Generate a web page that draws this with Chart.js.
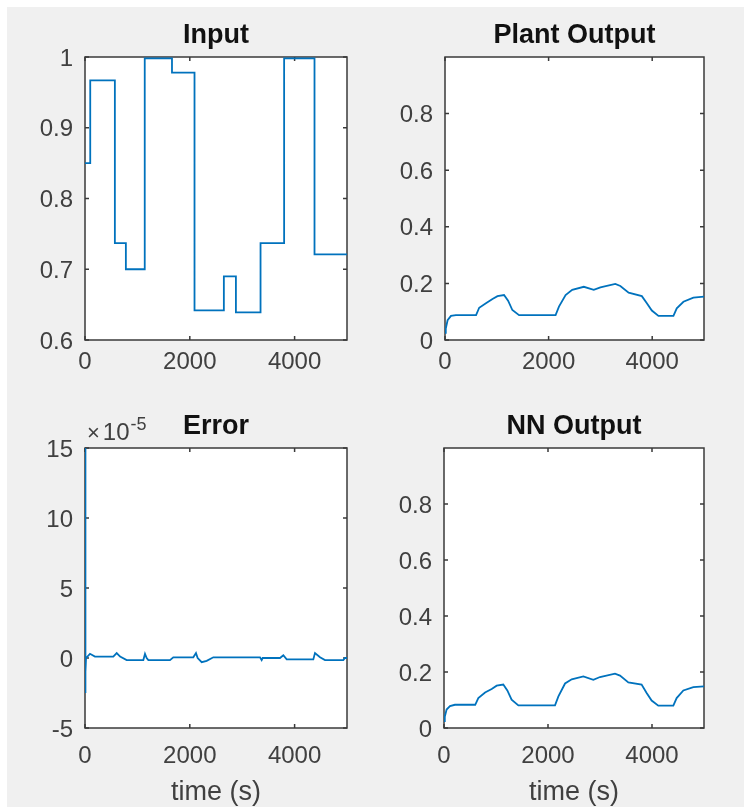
<!DOCTYPE html>
<html>
<head>
<meta charset="utf-8">
<script src="https://cdn.jsdelivr.net/npm/chart.js@4.4.1/dist/chart.umd.min.js"></script>
<style>
  body { margin: 0; background: #fff; width: 744px; height: 807px; position: relative; overflow: hidden; }
  #figure { position: absolute; left: 7px; top: 7px; width: 737px; height: 800px; background: #f0f0f0; }
  canvas { position: absolute; }
</style>
</head>
<body>
<div id="figure"></div>
<canvas id="inputChart" width="372" height="400" style="left:0;top:0"></canvas>
<canvas id="plantChart" width="372" height="400" style="left:372px;top:0"></canvas>
<canvas id="errorChart" width="372" height="407" style="left:0;top:400px"></canvas>
<canvas id="nnChart" width="372" height="407" style="left:372px;top:400px"></canvas>
<script>
/* Four MATLAB-style subplots: input, plant output, error, NN output */

const timeTicks = [0, 2000, 4000];

const inputTime = [0, 100, 570, 780, 1140, 1660, 2090, 2650, 2880, 3350, 3800, 4380, 5000];
const inputValue = [0.85, 0.967, 0.737, 0.70, 0.998, 0.978, 0.642, 0.69, 0.639, 0.737, 0.998, 0.721, 0.721];
const inputTicks = [0.6, 0.7, 0.8, 0.9, 1];

const outputTime = [0, 15, 50, 115, 210, 600, 660, 790, 917, 1013, 1140, 1218, 1300, 1430, 2135, 2200, 2328,
  2456, 2680, 2872, 3000, 3288, 3385, 3545, 3800, 3897, 3993, 4121, 4410, 4474, 4603, 4795, 5000];
const plantValue = [0.025, 0.04, 0.07, 0.085, 0.088, 0.088, 0.114, 0.13, 0.145, 0.155, 0.159, 0.139, 0.106, 0.088,
  0.088, 0.118, 0.159, 0.177, 0.188, 0.177, 0.186, 0.198, 0.191, 0.167, 0.155, 0.13, 0.104, 0.085, 0.085, 0.112,
  0.135, 0.15, 0.153];
const nnValue = [0.025, 0.04, 0.066, 0.078, 0.083, 0.083, 0.107, 0.127, 0.139, 0.151, 0.155, 0.134, 0.101, 0.081,
  0.081, 0.113, 0.159, 0.174, 0.184, 0.172, 0.182, 0.194, 0.187, 0.163, 0.155, 0.125, 0.098, 0.08, 0.08, 0.107,
  0.134, 0.146, 0.149];
const outputTicks = [0, 0.2, 0.4, 0.6, 0.8];

// error values are in units of 1e-5
const errorTime = [0, 5, 12, 20, 95, 190, 540, 605, 670, 795, 1113, 1145, 1177, 1209, 1622, 1685, 2067, 2118, 2150,
  2227, 2322, 2449, 3340, 3371, 3390, 3721, 3785, 3849, 4357, 4389, 4485, 4580, 4930, 4962, 5000];
const errorValue = [16, -2.5, -1, 0, 0.3, 0.1, 0.1, 0.35, 0.1, -0.15, -0.15, 0.3, 0, -0.15, -0.15, 0.05, 0.05, 0.35,
  0, -0.3, -0.2, 0.05, 0.05, -0.15, 0, 0, 0.2, -0.1, -0.1, 0.35, 0.05, -0.15, -0.15, 0, 0];
const errorTicks = [-5, 0, 5, 10, 15];

const LINE_COLOR = "#0072bd";
const AXIS_COLOR = "#3a3a3a";
const TEXT_COLOR = "#404040";
const FONT = "'Liberation Sans', Arial, sans-serif";

const matlabAxes = {
  id: "matlabAxes",
  beforeDraw(chart) {
    const { ctx, chartArea: a } = chart;
    ctx.save();
    ctx.fillStyle = "#fff";
    ctx.fillRect(a.left, a.top, a.width, a.height);
    ctx.restore();
  },
  beforeDatasetsDraw(chart) {
    const { ctx, chartArea: a, scales } = chart;
    const len = 4;
    ctx.save();
    ctx.strokeStyle = AXIS_COLOR;
    ctx.lineWidth = 1.5;
    ctx.beginPath();
    scales.x.ticks.forEach((t) => {
      const px = scales.x.getPixelForValue(t.value);
      ctx.moveTo(px, a.bottom); ctx.lineTo(px, a.bottom - len);
      ctx.moveTo(px, a.top); ctx.lineTo(px, a.top + len);
    });
    scales.y.ticks.forEach((t) => {
      const py = scales.y.getPixelForValue(t.value);
      ctx.moveTo(a.left, py); ctx.lineTo(a.left + len, py);
      ctx.moveTo(a.right, py); ctx.lineTo(a.right - len, py);
    });
    ctx.stroke();
    ctx.strokeRect(a.left, a.top, a.width, a.height);
    ctx.restore();
  },
  afterDraw(chart, args, opts) {
    const { ctx, chartArea: a } = chart;
    const cx = (a.left + a.right) / 2;
    ctx.save();
    ctx.textAlign = "center";
    ctx.textBaseline = "alphabetic";
    ctx.fillStyle = "#111";
    ctx.font = "bold 27px " + FONT;
    ctx.fillText(opts.title, cx, a.top - 14);
    if (opts.xLabel) {
      ctx.fillStyle = TEXT_COLOR;
      ctx.font = "27px " + FONT;
      ctx.fillText(opts.xLabel, cx, a.bottom + 72);
    }
    if (opts.exponent) {
      // MATLAB-style axis multiplier, e.g. x10^-5
      ctx.textAlign = "left";
      ctx.fillStyle = TEXT_COLOR;
      ctx.font = "22px " + FONT;
      ctx.fillText("\u00d7", a.left + 2, a.top - 8);
      const xw = ctx.measureText("\u00d7").width;
      ctx.font = "24px " + FONT;
      ctx.fillText("10", a.left + 5 + xw, a.top - 8);
      const tw = ctx.measureText("10").width;
      ctx.font = "18px " + FONT;
      ctx.fillText(opts.exponent, a.left + 6 + xw + tw, a.top - 18);
    }
    ctx.restore();
  },
};

function fixAxis(size) {
  return (scale) => {
    if (scale.isHorizontal()) scale.height = size;
    else scale.width = size;
    scale.paddingLeft = scale.paddingRight = scale.paddingTop = scale.paddingBottom = 0;
  };
}

function makePlot(id, cfg) {
  const points = cfg.xs.map((x, i) => ({ x, y: cfg.ys[i] }));
  return new Chart(document.getElementById(id), {
    type: "line",
    data: {
      datasets: [{
        data: points,
        borderColor: LINE_COLOR,
        borderWidth: 1.8,
        pointRadius: 0,
        fill: false,
        tension: 0,
        stepped: cfg.stepped || false,
      }],
    },
    options: {
      responsive: false,
      animation: false,
      events: [],
      layout: { padding: { top: cfg.top, right: cfg.right, bottom: 0, left: 0 } },
      plugins: {
        legend: { display: false },
        tooltip: { enabled: false },
        matlabAxes: { title: cfg.title, xLabel: cfg.xLabel, exponent: cfg.exponent },
      },
      scales: {
        x: {
          type: "linear",
          min: 0,
          max: 5000,
          grid: { display: false, drawTicks: false },
          border: { display: false },
          afterBuildTicks: (scale) => { scale.ticks = timeTicks.map((v) => ({ value: v })); },
          afterFit: fixAxis(cfg.xHeight),
          ticks: {
            padding: cfg.xPad,
            maxRotation: 0,
            color: TEXT_COLOR,
            font: { family: FONT, size: 24 },
            callback: (v) => String(v),
          },
        },
        y: {
          type: "linear",
          min: cfg.yMin,
          max: cfg.yMax,
          grid: { display: false, drawTicks: false },
          border: { display: false },
          afterBuildTicks: (scale) => { scale.ticks = cfg.yTicks.map((v) => ({ value: v })); },
          afterFit: fixAxis(cfg.yWidth),
          ticks: {
            padding: 12,
            labelOffset: 2,
            color: TEXT_COLOR,
            font: { family: FONT, size: 24 },
            callback: (v) => String(v),
          },
        },
      },
    },
    plugins: [matlabAxes],
  });
}

makePlot("inputChart", {
  title: "Input", xs: inputTime, ys: inputValue, stepped: "before",
  yMin: 0.6, yMax: 1, yTicks: inputTicks,
  top: 57, right: 25, yWidth: 85, xHeight: 60, xPad: 8,
});
makePlot("plantChart", {
  title: "Plant Output", xs: outputTime, ys: plantValue,
  yMin: 0, yMax: 1, yTicks: outputTicks,
  top: 57, right: 40, yWidth: 73, xHeight: 60, xPad: 8,
});
makePlot("errorChart", {
  title: "Error", xs: errorTime, ys: errorValue, exponent: "-5", xLabel: "time (s)",
  yMin: -5, yMax: 15, yTicks: errorTicks,
  top: 48, right: 25, yWidth: 85, xHeight: 79, xPad: 14,
});
makePlot("nnChart", {
  title: "NN Output", xs: outputTime, ys: nnValue, xLabel: "time (s)",
  yMin: 0, yMax: 1, yTicks: outputTicks,
  top: 48, right: 40, yWidth: 72, xHeight: 79, xPad: 14,
});
</script>
</body>
</html>
